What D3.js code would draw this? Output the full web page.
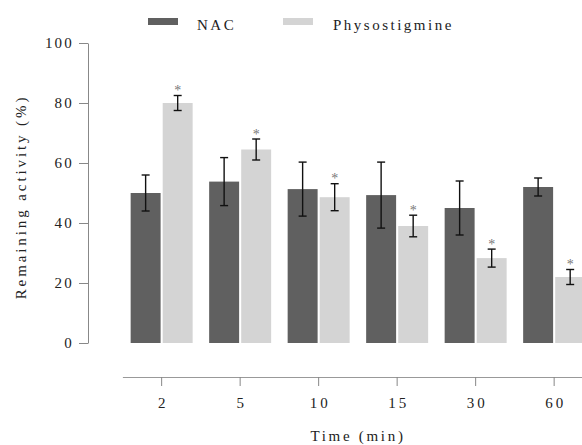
<!DOCTYPE html>
<html><head><meta charset="utf-8">
<script src="https://cdn.jsdelivr.net/npm/d3@7"></script>
<style>
body{margin:0;background:#fff;}
</style></head>
<body><svg id="c" width="582" height="445" style="font-family:'Liberation Serif',serif"></svg>
<script>
const categories = ["2","5","10","15","30","60"];
const seriesNames = ["NAC","Physostigmine"];
const nacValues = [50, 53.8, 51.3, 49.3, 45, 52];
const nacErrors = [6, 8, 9, 11, 9, 3];
const physoValues = [80, 64.5, 48.6, 39, 28.3, 22];
const physoErrors = [2.5, 3.5, 4.5, 3.6, 3, 2.5];
const physoSignificant = [true, true, true, true, true, true];
const yTicks = [0, 20, 40, 60, 80, 100];
const colors = ["#606060", "#d4d4d4"];
const FONT = "'Liberation Serif', 'Times New Roman', serif";

const svg = d3.select("#c");
const y = d3.scaleLinear().domain([0,100]).range([343,43]);
const x0 = d3.scaleBand().domain(categories).range([122.4, 122.4 + 6*78.5]).padding(0);
const x1 = d3.scaleBand().domain(seriesNames).range([-31, 31]).paddingInner(0.065).paddingOuter(0);

const data = categories.map((c,i)=>({cat:c, vals:[
  {s:"NAC", v:nacValues[i], e:nacErrors[i], sig:false},
  {s:"Physostigmine", v:physoValues[i], e:physoErrors[i], sig:physoSignificant[i]}
]}));

// Y axis
const yAxis = svg.append("g").attr("transform","translate(88,0)")
  .call(d3.axisLeft(y).tickValues(yTicks).tickSize(9).tickSizeOuter(0).tickPadding(5));
yAxis.attr("font-family", FONT);
yAxis.select(".domain").attr("stroke","#888");
yAxis.selectAll(".tick line").attr("stroke","#888");
yAxis.selectAll(".tick text").style("font-family",FONT).style("font-size","15px").style("letter-spacing","2.2px").attr("fill","#222");

// X axis
const xAxis = svg.append("g").attr("transform","translate(0,377)")
  .call(d3.axisBottom(x0).tickSize(9).tickSizeOuter(0).tickPadding(11));
xAxis.attr("font-family", FONT);
xAxis.select(".domain").attr("stroke","#999");
xAxis.selectAll(".tick line").attr("stroke","#888");
xAxis.selectAll(".tick text").style("font-family",FONT).style("font-size","15px").style("letter-spacing","3px").attr("fill","#222").attr("dx","1.5");

// Bars
const groups = svg.append("g").selectAll("g").data(data).join("g")
  .attr("transform", d=>`translate(${x0(d.cat)+x0.bandwidth()/2},0)`);
groups.selectAll("rect").data(d=>d.vals).join("rect")
  .attr("x", d=>x1(d.s)).attr("width", x1.bandwidth())
  .attr("y", d=>y(d.v)).attr("height", d=>y(0)-y(d.v))
  .attr("fill", (d,i)=>colors[i]);

// Error bars
const eb = groups.selectAll("g.err").data(d=>d.vals).join("g").attr("class","err")
  .attr("transform", d=>`translate(${x1(d.s)+x1.bandwidth()/2},0)`);
eb.append("line").attr("x1",0).attr("x2",0).attr("y1",d=>y(d.v+d.e)).attr("y2",d=>y(d.v-d.e))
  .attr("stroke","#111").attr("stroke-width",1.4);
eb.append("line").attr("x1",-4).attr("x2",4).attr("y1",d=>y(d.v+d.e)).attr("y2",d=>y(d.v+d.e))
  .attr("stroke","#111").attr("stroke-width",1.4);
eb.append("line").attr("x1",-4).attr("x2",4).attr("y1",d=>y(d.v-d.e)).attr("y2",d=>y(d.v-d.e))
  .attr("stroke","#111").attr("stroke-width",1.4);
eb.filter(d=>d.sig).append("text").attr("x",0).attr("y",d=>y(d.v+d.e)-0.5)
  .attr("text-anchor","middle").style("font-family",FONT).style("font-size","14px").style("fill","#777").text("*");

// Axis titles
svg.append("text").attr("x",358).attr("y",441).attr("text-anchor","middle")
  .style("font-family",FONT).style("font-size","15px").style("letter-spacing","2.7px").style("fill","#222").text("Time (min)");
svg.append("text").attr("transform","translate(26,197) rotate(-90)").attr("text-anchor","middle")
  .style("font-family",FONT).style("font-size","15px").style("letter-spacing","2.9px").style("fill","#222").text("Remaining activity (%)");

// Legend
const legX = [148, 283], legTextX = [197, 333];
seriesNames.forEach((s,i)=>{
  svg.append("rect").attr("x",legX[i]).attr("y",18).attr("width",30).attr("height",7).attr("fill",colors[i]);
  svg.append("text").attr("x",legTextX[i]).attr("y",30).style("font-family",FONT)
    .style("font-size","15px").style("letter-spacing","2.5px").style("fill","#222").text(s);
});
</script></body></html>
